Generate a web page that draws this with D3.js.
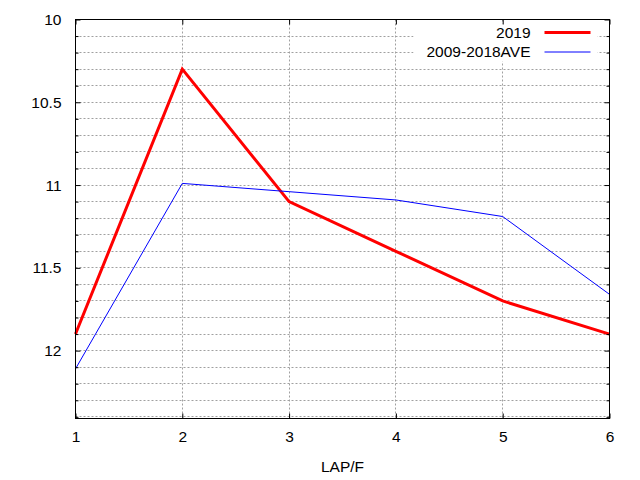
<!doctype html>
<html lang="en">
  <head>
    <meta charset="UTF-8" />
    <title>LAP/F</title>
    <script src="https://d3js.org/d3.v7.min.js"></script>
    <style>
      body {
        margin: 0;
        background: #fff;
      }
      svg {
        font-family: "Liberation Sans", Arial, sans-serif;
        font-size: 15.5px;
      }
      .grid line {
        stroke: #a0a0a0;
        stroke-width: 1;
        stroke-dasharray: 2, 2;
      }
    </style>
  </head>
  <body>
    <svg width="640" height="480"></svg>

    <script>
      const laps = [1, 2, 3, 4, 5, 6];
      const series2019 = [11.9, 10.3, 11.1, 11.4, 11.7, 11.9];
      const seriesAve = [12.11, 10.99, 11.04, 11.09, 11.19, 11.66];
      const seriesNames = ["2019", "2009-2018AVE"];
      const yTicks = [10, 10.5, 11, 11.5, 12];

      const svg = d3.select("svg"),
        margin = { top: 19.5, right: 30.5, bottom: 61.5, left: 75.5 },
        width = +svg.attr("width") - margin.left - margin.right,
        height = +svg.attr("height") - margin.top - margin.bottom,
        g = svg
          .append("g")
          .attr("transform", `translate(${margin.left},${margin.top})`);

      const x = d3.scaleLinear().domain([1, 6]).range([0, width]);
      const y = d3.scaleLinear().domain([10, 12.41]).range([0, height]);

      const minorTicks = d3.range(10, 12.41, 0.1).map((v) => +v.toFixed(1));

      // grid
      const grid = g.append("g").attr("class", "grid");
      grid
        .selectAll(".h")
        .data(minorTicks.filter((v) => v > 10))
        .enter()
        .append("line")
        .attr("x1", 0)
        .attr("x2", width)
        .attr("y1", (d) => Math.round(y(d)))
        .attr("y2", (d) => Math.round(y(d)));
      grid
        .selectAll(".v")
        .data(laps.slice(1, -1))
        .enter()
        .append("line")
        .attr("x1", (d) => Math.round(x(d)))
        .attr("x2", (d) => Math.round(x(d)))
        .attr("y1", 0)
        .attr("y2", height);

      // key background hides the grid behind it
      g.append("rect")
        .attr("x", 338)
        .attr("y", 4)
        .attr("width", 184)
        .attr("height", 38)
        .attr("fill", "#fff");

      const line = d3
        .line()
        .x((d, i) => x(laps[i]))
        .y((d) => y(d));

      g.append("path")
        .datum(series2019)
        .attr("fill", "none")
        .attr("stroke", "#ff0000")
        .attr("stroke-width", 3)
        .attr("d", line);

      g.append("path")
        .datum(seriesAve)
        .attr("fill", "none")
        .attr("stroke", "#0000ff")
        .attr("stroke-width", 1)
        .attr("d", line);

      // axes with inward ticks on all sides
      const major = 5,
        minor = 3;
      const yAxisL = d3
        .axisLeft(y)
        .tickValues(yTicks)
        .tickSize(-major)
        .tickPadding(14)
        .tickFormat(d3.format("~g"));
      const yAxisR = d3.axisRight(y).tickValues(yTicks).tickSize(-major).tickFormat("");
      const yMinorL = d3
        .axisLeft(y)
        .tickValues(minorTicks.filter((v) => !yTicks.includes(v)))
        .tickSize(-minor)
        .tickFormat("");
      const yMinorR = d3
        .axisRight(y)
        .tickValues(minorTicks.filter((v) => !yTicks.includes(v)))
        .tickSize(-minor)
        .tickFormat("");
      const xAxisB = d3
        .axisBottom(x)
        .tickValues(laps)
        .tickSize(-major)
        .tickPadding(12)
        .tickFormat(d3.format("d"));
      const xAxisT = d3.axisTop(x).tickValues(laps).tickSize(-major).tickFormat("");

      const axes = [
        g.append("g").call(yAxisL),
        g.append("g").call(yMinorL),
        g.append("g").attr("transform", `translate(${width},0)`).call(yAxisR),
        g.append("g").attr("transform", `translate(${width},0)`).call(yMinorR),
        g.append("g").attr("transform", `translate(0,${height})`).call(xAxisB),
        g.append("g").call(xAxisT),
      ];
      axes.forEach((a) => {
        a.select(".domain").remove();
        a.selectAll("line").attr("stroke", "#000");
        a.selectAll("text")
          .attr("fill", "#000")
          .style("font-size", "15.5px")
          .style("font-family", "'Liberation Sans', Arial, sans-serif");
      });

      g.append("rect")
        .attr("width", width)
        .attr("height", height)
        .attr("fill", "none")
        .attr("stroke", "#000")
        .attr("stroke-width", 1);

      g.append("text")
        .attr("x", width / 2)
        .attr("y", height + 53)
        .attr("text-anchor", "middle")
        .text("LAP/F");

      // key
      const keyStyles = [
        { color: "#ff0000", w: 3 },
        { color: "#0000ff", w: 1 },
      ];
      const key = g
        .selectAll(".key")
        .data(seriesNames)
        .enter()
        .append("g")
        .attr("transform", (d, i) => `translate(0,${13 + i * 19.5})`);
      key
        .append("text")
        .attr("x", 455)
        .attr("dy", "0.35em")
        .attr("text-anchor", "end")
        .text((d) => d);
      key
        .append("line")
        .attr("x1", 469)
        .attr("x2", 515)
        .attr("stroke", (d, i) => keyStyles[i].color)
        .attr("stroke-width", (d, i) => keyStyles[i].w);
    </script>
  </body>
</html>
